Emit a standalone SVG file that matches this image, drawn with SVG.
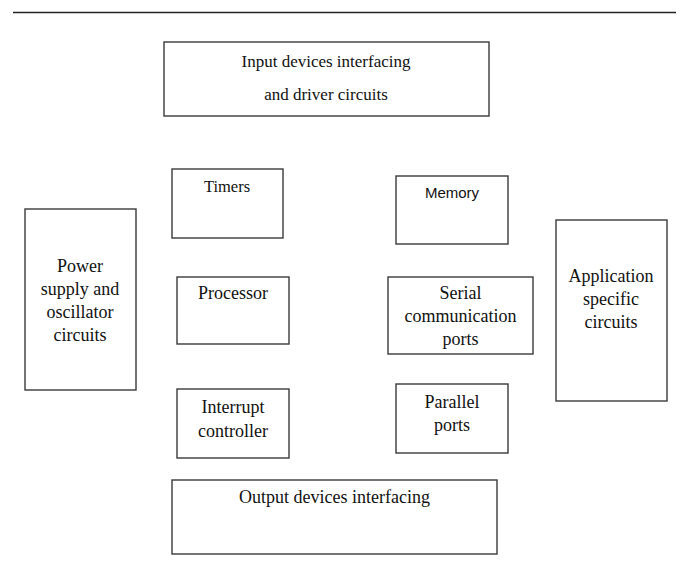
<svg xmlns="http://www.w3.org/2000/svg" width="681" height="569" viewBox="0 0 681 569">
<style>
.box{fill:#fff;stroke:#3a3a3a;stroke-width:1.4}
.t{font-family:"Liberation Serif","Times New Roman",serif;font-size:18px;fill:#111;text-anchor:middle}
.s{font-family:"Liberation Sans",Arial,sans-serif;font-size:15px;fill:#111;text-anchor:middle}
</style>
<rect width="681" height="569" fill="#fff"/>
<line x1="13" y1="12.5" x2="676" y2="12.5" stroke="#222" stroke-width="1.5"/>
<g id="input"><rect class="box" x="164" y="42" width="325" height="74"/>
<text class="t" x="326" y="67" style="font-size:17px">Input devices interfacing</text>
<text class="t" x="326" y="100" style="font-size:17px">and driver circuits</text></g>
<g id="timers"><rect class="box" x="172" y="169" width="111" height="69"/>
<text class="t" x="227" y="192" style="font-size:16.5px">Timers</text></g>
<g id="memory"><rect class="box" x="396" y="176" width="112" height="68"/>
<text class="s" x="452" y="198">Memory</text></g>
<g id="power"><rect class="box" x="25" y="209" width="111" height="181"/>
<text class="t" x="80" y="272">Power</text>
<text class="t" x="80" y="295">supply and</text>
<text class="t" x="80" y="318">oscillator</text>
<text class="t" x="80" y="341">circuits</text></g>
<g id="application"><rect class="box" x="556" y="220" width="111" height="181"/>
<text class="t" x="611" y="282">Application</text>
<text class="t" x="611" y="305">specific</text>
<text class="t" x="611" y="328">circuits</text></g>
<g id="processor"><rect class="box" x="177" y="277" width="112" height="67"/>
<text class="t" x="233" y="299">Processor</text></g>
<g id="serial"><rect class="box" x="388" y="277" width="145" height="77"/>
<text class="t" x="460.5" y="299">Serial</text>
<text class="t" x="460.5" y="322">communication</text>
<text class="t" x="460.5" y="345">ports</text></g>
<g id="parallel"><rect class="box" x="396" y="384" width="112" height="69"/>
<text class="t" x="452" y="408">Parallel</text>
<text class="t" x="452" y="431">ports</text></g>
<g id="interrupt"><rect class="box" x="177" y="389" width="112" height="69"/>
<text class="t" x="233" y="413">Interrupt</text>
<text class="t" x="233" y="437">controller</text></g>
<g id="output"><rect class="box" x="172" y="480" width="325" height="74"/>
<text class="t" x="334.5" y="503">Output devices interfacing</text></g>
<g id="connectors"></g>
</svg>
